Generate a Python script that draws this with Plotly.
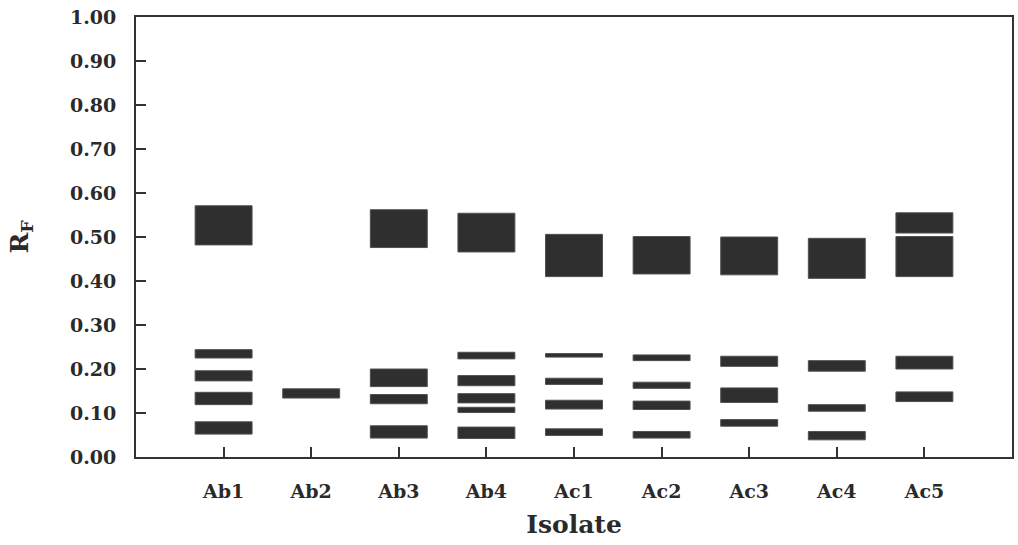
import plotly.graph_objects as go

# Isolates along the x axis (category order)
isolates = ["Ab1", "Ab2", "Ab3", "Ab4", "Ac1", "Ac2", "Ac3", "Ac4", "Ac5"]

# Each band: the isolate it belongs to, and its lower / upper Rf limits
band_isolate = [
    "Ab1", "Ab1", "Ab1", "Ab1", "Ab1",
    "Ab2",
    "Ab3", "Ab3", "Ab3", "Ab3",
    "Ab4", "Ab4", "Ab4", "Ab4", "Ab4", "Ab4",
    "Ac1", "Ac1", "Ac1", "Ac1", "Ac1",
    "Ac2", "Ac2", "Ac2", "Ac2", "Ac2",
    "Ac3", "Ac3", "Ac3", "Ac3",
    "Ac4", "Ac4", "Ac4", "Ac4",
    "Ac5", "Ac5", "Ac5", "Ac5",
]
band_low = [
    0.482, 0.225, 0.173, 0.119, 0.052,
    0.134,
    0.476, 0.160, 0.121, 0.043,
    0.466, 0.223, 0.162, 0.123, 0.101, 0.042,
    0.410, 0.227, 0.165, 0.109, 0.049,
    0.416, 0.219, 0.156, 0.108, 0.043,
    0.414, 0.206, 0.124, 0.070,
    0.406, 0.195, 0.104, 0.039,
    0.509, 0.410, 0.200, 0.126,
]
band_high = [
    0.571, 0.244, 0.196, 0.147, 0.080,
    0.155,
    0.562, 0.200, 0.142, 0.071,
    0.554, 0.238, 0.185, 0.144, 0.113, 0.068,
    0.506, 0.235, 0.179, 0.129, 0.064,
    0.501, 0.232, 0.170, 0.127, 0.058,
    0.500, 0.229, 0.157, 0.085,
    0.497, 0.219, 0.119, 0.058,
    0.555, 0.501, 0.229, 0.148,
]

# y axis tick values
rf_ticks = [i / 10 for i in range(11)]

positions = [isolates.index(name) + 1 for name in band_isolate]
heights = [hi - lo for lo, hi in zip(band_low, band_high)]

ink = "#2f2f2f"
serif = "DejaVu Serif"

fig = go.Figure()
fig.add_trace(
    go.Bar(
        x=positions,
        y=heights,
        base=band_low,
        width=0.65,
        marker=dict(color=ink, line=dict(color="#505050", width=1)),
        showlegend=False,
    )
)

fig.update_layout(
    width=1018,
    height=545,
    margin=dict(l=136, r=4, t=17, b=88),
    paper_bgcolor="white",
    plot_bgcolor="white",
    barmode="overlay",
    font=dict(family=serif, color="#2a2a2a"),
    xaxis=dict(
        range=[0, 10],
        tickvals=list(range(1, len(isolates) + 1)),
        ticktext=isolates,
        ticks="inside",
        ticklen=10,
        tickwidth=2,
        tickcolor="#333",
        showline=True,
        linecolor="#333",
        linewidth=2,
        mirror=True,
        showgrid=False,
        zeroline=False,
        tickfont=dict(family=serif, size=19, weight="bold"),
        ticklabelstandoff=16,
        title=dict(
            text="Isolate",
            font=dict(family=serif, size=25, weight="bold"),
            standoff=15,
        ),
    ),
    yaxis=dict(
        range=[0, 1],
        tickvals=rf_ticks,
        tickformat=".2f",
        ticks="inside",
        ticklen=10,
        tickwidth=2,
        tickcolor="#333",
        showline=True,
        linecolor="#333",
        linewidth=2,
        mirror=True,
        showgrid=False,
        zeroline=False,
        tickfont=dict(family=serif, size=19, weight="bold"),
        ticklabelstandoff=14,
        title=dict(
            text="R<sub>F</sub>",
            font=dict(family=serif, size=25, weight="bold"),
            standoff=34,
        ),
    ),
)

fig.write_html("out.html")
